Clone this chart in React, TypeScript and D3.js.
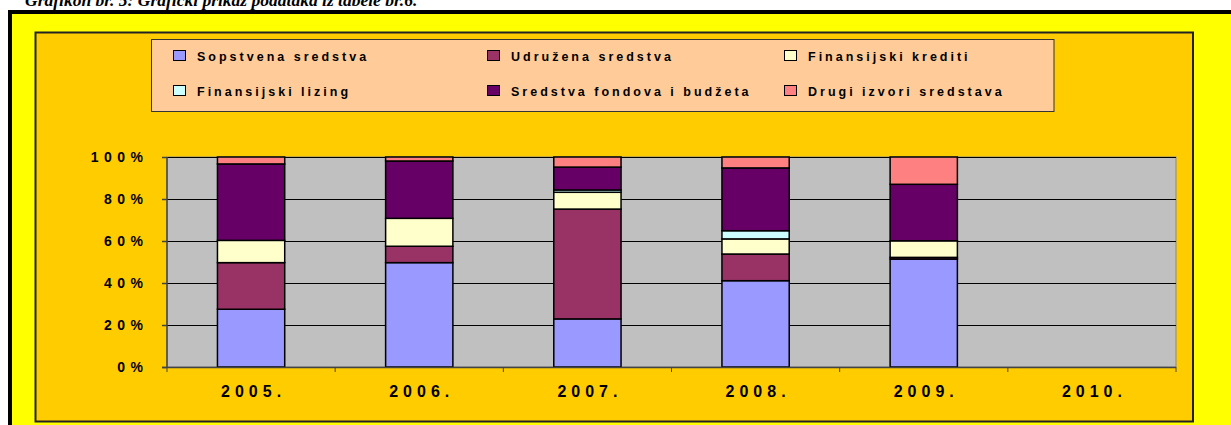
import React from "react";
import * as d3 from "d3";

const years = ["2005.", "2006.", "2007.", "2008.", "2009.", "2010."];
const seriesNames = [
  "Sopstvena sredstva",
  "Udružena sredstva",
  "Finansijski krediti",
  "Finansijski lizing",
  "Sredstva fondova i budžeta",
  "Drugi izvori sredstava",
];
const seriesColors = ["#9999FF", "#993366", "#FFFFCC", "#CCFFFF", "#660066", "#FF8080"];
const sopstvena = [27.5, 49.7, 22.9, 41.1, 51.4, 0];
const udruzena = [22.2, 7.8, 52.3, 12.7, 0.8, 0];
const krediti = [10.6, 13.3, 8.0, 7.2, 7.9, 0];
const lizing = [0, 0, 1.1, 3.9, 0, 0];
const fondovi = [36.4, 27.3, 10.9, 29.9, 26.9, 0];
const drugi = [3.3, 1.9, 4.8, 5.2, 13.0, 0];
const yTicks = [0, 20, 40, 60, 80, 100];
const title = "Grafikon br. 5: Grafički prikaz podataka iz tabele br.6.";

export default function App() {
  const W = 1231, H = 425;
  const plot = { x0: 167, x1: 1176, y0: 157, y1: 367 };
  const seriesData = [sopstvena, udruzena, krediti, lizing, fondovi, drugi];
  const rows = years.map((y, i) => {
    const r: any = { year: y };
    seriesNames.forEach((n, k) => (r[n] = seriesData[k][i]));
    return r;
  });
  const stack = d3.stack<any>().keys(seriesNames).offset(d3.stackOffsetExpand);
  const stacked = stack(rows);
  const x = d3.scaleBand().domain(years).range([plot.x0, plot.x1]).paddingInner(0.6).paddingOuter(0.3);
  const xOuter = d3.scaleBand().domain(years).range([plot.x0, plot.x1]);
  const y = d3.scaleLinear().domain([0, 100]).range([plot.y1, plot.y0]);
  const hasData = (i: number) => seriesData.some((s) => s[i] > 0);

  const legendCols = [173, 487, 784];
  const legendRows = [56, 91];
  const font = "'Liberation Sans', Arial, sans-serif";

  return (
    <svg width={W} height={H} style={{ position: "absolute", left: 0, top: 0 }} xmlns="http://www.w3.org/2000/svg">
      <rect x={0} y={0} width={W} height={H} fill="#ffffff" />
      <text x={25} y={6} fontFamily="'Liberation Serif', 'Times New Roman', serif" fontStyle="italic" fontWeight="bold" fontSize={17.5} fill="#000">
        {title}
      </text>
      <rect x={10} y={12} width={W + 20} height={H + 20} fill="#FFFF00" stroke="#000" strokeWidth={4} />
      <rect x={35.5} y={32.5} width={1157.5} height={389} fill="#FFCC00" stroke="#222" strokeWidth={2} />
      {/* legend */}
      <rect x={151.5} y={39.5} width={902.5} height={72} fill="#FFCC99" stroke="#333" strokeWidth={1} />
      {seriesNames.map((n, k) => {
        const cx = legendCols[k % 3];
        const cy = legendRows[Math.floor(k / 3)];
        return (
          <g key={n}>
            <rect x={cx + 0.5} y={cy - 5.5} width={12} height={10} fill={seriesColors[k]} stroke="#000" strokeWidth={1} />
            <text x={cx + 24} y={cy + 4.5} fontFamily={font} fontWeight="bold" fontSize={12.5} letterSpacing={3} fill="#000">
              {n}
            </text>
          </g>
        );
      })}
      {/* plot area */}
      <rect x={plot.x0} y={plot.y0} width={plot.x1 - plot.x0} height={plot.y1 - plot.y0} fill="#C0C0C0" stroke="#888" strokeWidth={1} />
      {yTicks.filter((t) => t > 0).map((t) => (
        <line key={t} x1={plot.x0} x2={plot.x1} y1={Math.round(y(t)) + 0.5} y2={Math.round(y(t)) + 0.5} stroke="#000" strokeWidth={1} />
      ))}
      {/* bars */}
      {stacked.map((layer, k) => (
        <g key={layer.key}>
          {layer.map((d, i) =>
            hasData(i) && d[1] - d[0] > 0 ? (
              <rect
                key={i}
                x={x(years[i])!}
                y={y(d[1] * 100)}
                width={x.bandwidth()}
                height={y(d[0] * 100) - y(d[1] * 100)}
                fill={seriesColors[k]}
                stroke="#000"
                strokeWidth={1.5}
              />
            ) : null
          )}
        </g>
      ))}
      {/* axes */}
      <line x1={plot.x0} x2={plot.x0} y1={plot.y0} y2={plot.y1} stroke="#444" strokeWidth={1.5} />
      <line x1={plot.x0 - 5} x2={plot.x1} y1={plot.y1 + 0.5} y2={plot.y1 + 0.5} stroke="#444" strokeWidth={1.5} />
      {yTicks.map((t) => (
        <g key={t}>
          <line x1={plot.x0 - 5} x2={plot.x0} y1={Math.round(y(t)) + 0.5} y2={Math.round(y(t)) + 0.5} stroke="#444" strokeWidth={1.5} />
          <text x={143 + 5.5} y={y(t) + 5} textAnchor="end" fontFamily={font} fontWeight="bold" fontSize={14} letterSpacing={5.5} fill="#000">
            {t + "%"}
          </text>
        </g>
      ))}
      {years.map((yr, i) => (
        <line key={"t" + i} x1={xOuter(yr)!} x2={xOuter(yr)!} y1={plot.y1} y2={plot.y1 + 5} stroke="#444" strokeWidth={1} />
      ))}
      <line x1={plot.x1} x2={plot.x1} y1={plot.y1} y2={plot.y1 + 5} stroke="#444" strokeWidth={1} />
      {years.map((yr) => (
        <text key={yr} x={xOuter(yr)! + xOuter.bandwidth() / 2 + 2.5} y={397} textAnchor="middle" fontFamily={font} fontWeight="bold" fontSize={16} letterSpacing={5} fill="#000">
          {yr}
        </text>
      ))}
    </svg>
  );
}
